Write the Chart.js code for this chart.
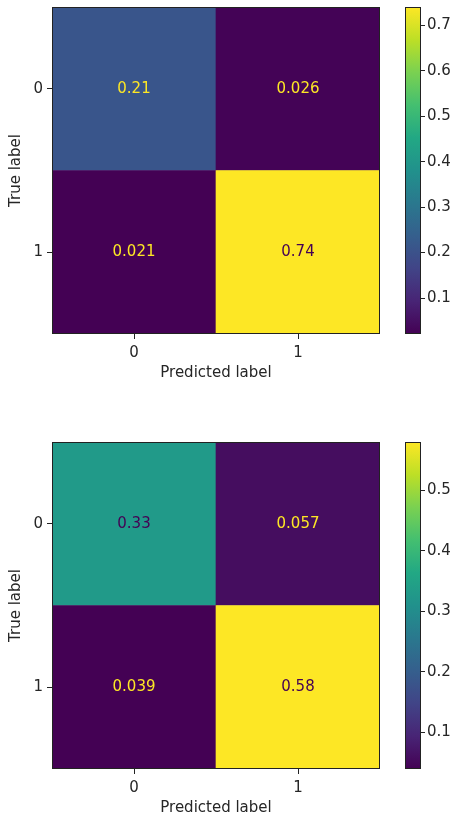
<!DOCTYPE html>
<html>
<head>
<meta charset="utf-8">
<script src="https://cdn.jsdelivr.net/npm/chart.js@4.4.1/dist/chart.umd.min.js"></script>
<style>
  body { margin: 0; background: #fff; width: 456px; height: 814px; position: relative; overflow: hidden; }
  .box { position: absolute; }
</style>
</head>
<body>
<div class="box" style="left:0;top:0;width:395px;height:385px"><canvas id="cm1"></canvas></div>
<div class="box" style="left:395px;top:0;width:61px;height:385px"><canvas id="cb1"></canvas></div>
<div class="box" style="left:0;top:435px;width:395px;height:385px"><canvas id="cm2"></canvas></div>
<div class="box" style="left:395px;top:435px;width:61px;height:385px"><canvas id="cb2"></canvas></div>
<script>
// labels
const predLabels = ['0', '1']
const trueLabels = ['0', '1']

// normalized confusion matrices, one array per true-label row
const cm1Row0 = [0.21, 0.026]
const cm1Row1 = [0.021, 0.74]
const cm2Row0 = [0.33, 0.057]
const cm2Row1 = [0.039, 0.58]

// colorbar ticks
const cb1Ticks = [0.1, 0.2, 0.3, 0.4, 0.5, 0.6, 0.7]
const cb2Ticks = [0.1, 0.2, 0.3, 0.4, 0.5]

// viridis stops
const viridis = ['#440154', '#482475', '#414487', '#355f8d', '#2a788e', '#21918c',
                 '#22a884', '#44bf70', '#7ad151', '#bddf26', '#fde725']

function hex(c) { return [1, 3, 5].map(i => parseInt(c.slice(i, i + 2), 16)) }
function viridisAt(t) {
  t = Math.max(0, Math.min(1, t))
  const p = t * (viridis.length - 1)
  const i = Math.min(Math.floor(p), viridis.length - 2)
  const f = p - i
  const a = hex(viridis[i]), b = hex(viridis[i + 1])
  const c = a.map((v, k) => Math.round(v + (b[k] - v) * f))
  return 'rgb(' + c.join(',') + ')'
}

const FONT = { family: 'DejaVu Sans', size: 15 }
const TXT = '#262626'

// black spine round the plot area
const frame = {
  id: 'frame',
  afterDraw(chart) {
    const a = chart.chartArea, c = chart.ctx
    c.save()
    c.strokeStyle = '#222'
    c.lineWidth = 1
    c.strokeRect(Math.round(a.left) + 0.5, Math.round(a.top) + 0.5,
                 Math.round(a.right - a.left) - 1, Math.round(a.bottom - a.top) - 1)
    c.restore()
  }
}

function cellLabels(rows, vmin, vmax) {
  return {
    id: 'cellLabels',
    afterDatasetsDraw(chart) {
      const c = chart.ctx
      c.save()
      c.font = FONT.size + 'px "' + FONT.family + '"'
      c.textAlign = 'center'
      c.textBaseline = 'middle'
      chart.data.datasets.forEach((ds, di) => {
        chart.getDatasetMeta(di).data.forEach((el, i) => {
          const v = rows[ds.row][i]
          c.fillStyle = v < (vmin + vmax) / 2 ? viridis[10] : viridis[0]
          c.fillText(String(v), el.x, (el.y + el.base) / 2)
        })
      })
      c.restore()
    }
  }
}

// drop the label overhang padding so the plot box sits where we want it
function noPad(s) { s.paddingTop = 0; s.paddingBottom = 0 }

function makeMatrix(id, row0, row1) {
  const rows = [row0, row1]
  const all = row0.concat(row1)
  const vmin = Math.min(...all), vmax = Math.max(...all)
  const color = r => ctx => viridisAt((rows[r][ctx.dataIndex] - vmin) / (vmax - vmin))
  const axisGrid = { drawOnChartArea: false, drawTicks: true, tickLength: 5, color: '#222', offset: false }
  new Chart(document.getElementById(id), {
    type: 'bar',
    data: {
      labels: predLabels,
      datasets: [
        { row: 1, data: predLabels.map(() => 1), backgroundColor: color(1) },
        { row: 0, data: predLabels.map(() => 1), backgroundColor: color(0) }
      ]
    },
    options: {
      responsive: true,
      maintainAspectRatio: false,
      animation: false,
      layout: { padding: { top: 7, right: 15, left: 0, bottom: 0 } },
      datasets: { bar: { barPercentage: 1, categoryPercentage: 1, borderWidth: 0 } },
      plugins: { legend: { display: false }, tooltip: { enabled: false } },
      scales: {
        x: {
          stacked: true,
          grid: axisGrid,
          border: { display: false },
          ticks: { color: TXT, font: FONT, padding: 5 },
          title: { display: true, text: 'Predicted label', color: TXT, font: FONT, padding: { top: 0, bottom: 3 } },
          afterFit: s => { s.height = 51 }
        },
        y: {
          type: 'linear',
          stacked: true,
          min: 0,
          max: 2,
          afterBuildTicks: s => { s.ticks = [{ value: 1.5 }, { value: 0.5 }] },
          grid: axisGrid,
          border: { display: false },
          ticks: { color: TXT, font: FONT, padding: 4, callback: v => trueLabels[Math.floor(2 - v)] },
          title: { display: true, text: 'True label', color: TXT, font: FONT, padding: { top: 7, bottom: 0 } },
          afterFit: s => { s.width = 52; noPad(s) }
        }
      }
    },
    plugins: [frame, cellLabels(rows, vmin, vmax)]
  })
  return [vmin, vmax]
}

function makeColorbar(id, range, ticks) {
  const [vmin, vmax] = range
  new Chart(document.getElementById(id), {
    type: 'bar',
    data: {
      labels: [''],
      datasets: [{
        data: [[vmin, vmax]],
        barPercentage: 1,
        categoryPercentage: 1,
        borderWidth: 0,
        backgroundColor: ctx => {
          const a = ctx.chart.chartArea
          if (!a) return null
          const g = ctx.chart.ctx.createLinearGradient(0, a.bottom, 0, a.top)
          viridis.forEach((c, i) => g.addColorStop(i / (viridis.length - 1), c))
          return g
        }
      }]
    },
    options: {
      responsive: true,
      maintainAspectRatio: false,
      animation: false,
      layout: { padding: { top: 7, left: 10, right: 0, bottom: 51 } },
      plugins: { legend: { display: false }, tooltip: { enabled: false } },
      scales: {
        x: { display: false },
        y: {
          position: 'right',
          min: vmin,
          max: vmax,
          afterBuildTicks: s => { s.ticks = ticks.map(v => ({ value: v })) },
          grid: { drawOnChartArea: false, drawTicks: true, tickLength: 4, color: '#222' },
          border: { display: false },
          ticks: { color: TXT, font: FONT, padding: 2, callback: v => v.toFixed(1) },
          afterFit: s => { s.width = 35; noPad(s) }
        }
      }
    },
    plugins: [frame]
  })
}

makeColorbar('cb1', makeMatrix('cm1', cm1Row0, cm1Row1), cb1Ticks)
makeColorbar('cb2', makeMatrix('cm2', cm2Row0, cm2Row1), cb2Ticks)
</script>
</body>
</html>
